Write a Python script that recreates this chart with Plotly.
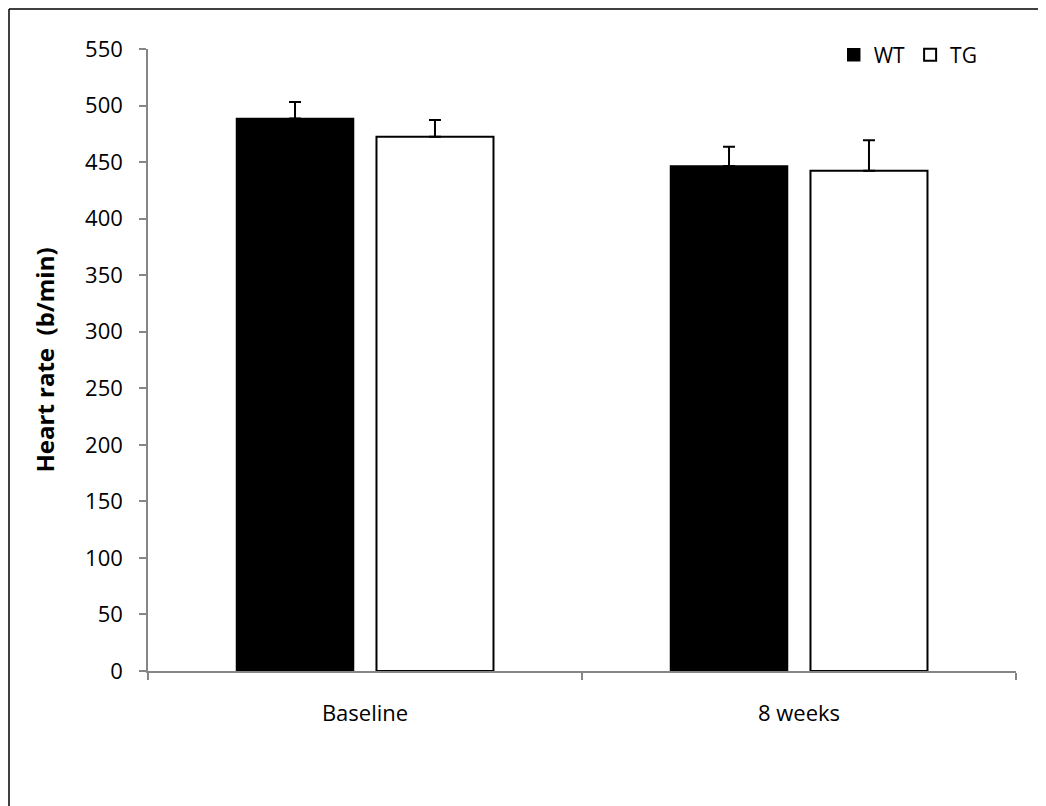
import plotly.graph_objects as go

categories = ["Baseline", "8 weeks"]
wt_values = [488.5, 446.5]
wt_err = [14.6, 17.0]
tg_values = [472.5, 442.4]
tg_err = [14.7, 27.0]
y_ticks = list(range(0, 551, 50))

FONT = "Open Sans"
PW, PH = 868, 622  # plot area size in px
L, T = 140, 41

fig = go.Figure()
fig.add_trace(go.Bar(
    name="WT", x=categories, y=wt_values,
    marker=dict(color="black", line=dict(color="black", width=1.5)),
    error_y=dict(type="data", array=wt_err, arrayminus=[0, 0], symmetric=False,
                 color="black", thickness=2, width=6),
))
fig.add_trace(go.Bar(
    name="TG", x=categories, y=tg_values,
    marker=dict(color="white", line=dict(color="black", width=2)),
    error_y=dict(type="data", array=tg_err, arrayminus=[0, 0], symmetric=False,
                 color="black", thickness=2, width=6),
))

top_y = 1 + (T - 1) / PH
left_x = -(L - 1) / PW
fig.update_layout(
    width=1038, height=798,
    margin=dict(l=L, r=30, t=T, b=798 - T - PH),
    plot_bgcolor="white", paper_bgcolor="white",
    barmode="group", bargap=0.355, bargroupgap=0.164,
    font=dict(family=FONT, size=22, color="black"),
    showlegend=True,
    legend=dict(orientation="h", x=0.79, xanchor="left", y=0.99, yanchor="middle",
                font=dict(family=FONT, size=21, color="black"),
                bgcolor="rgba(0,0,0,0)", itemwidth=30, traceorder="normal"),
    shapes=[
        dict(type="line", xref="paper", yref="paper", x0=left_x, x1=1.2,
             y0=top_y, y1=top_y, line=dict(color="black", width=1.5)),
        dict(type="line", xref="paper", yref="paper", x0=left_x, x1=left_x,
             y0=top_y, y1=-0.4, line=dict(color="black", width=1.5)),
    ],
)
fig.update_yaxes(
    range=[0, 550], tickvals=y_ticks, showgrid=False, zeroline=False,
    showline=True, linecolor="#868686", linewidth=1.5,
    ticks="outside", ticklen=7, tickcolor="#868686", tickwidth=1.5,
    tickfont=dict(family=FONT, size=22), ticklabelstandoff=12,
    title=dict(text="<b>Heart rate  (b/min)</b>", font=dict(family=FONT, size=24), standoff=24),
)
fig.update_xaxes(
    showgrid=False, showline=True, linecolor="#868686", linewidth=1.5,
    ticks="outside", tickson="boundaries", ticklen=7, tickcolor="#868686", tickwidth=1.5,
    tickfont=dict(family=FONT, size=22), ticklabelstandoff=22,
)

fig.write_html("out.html")
